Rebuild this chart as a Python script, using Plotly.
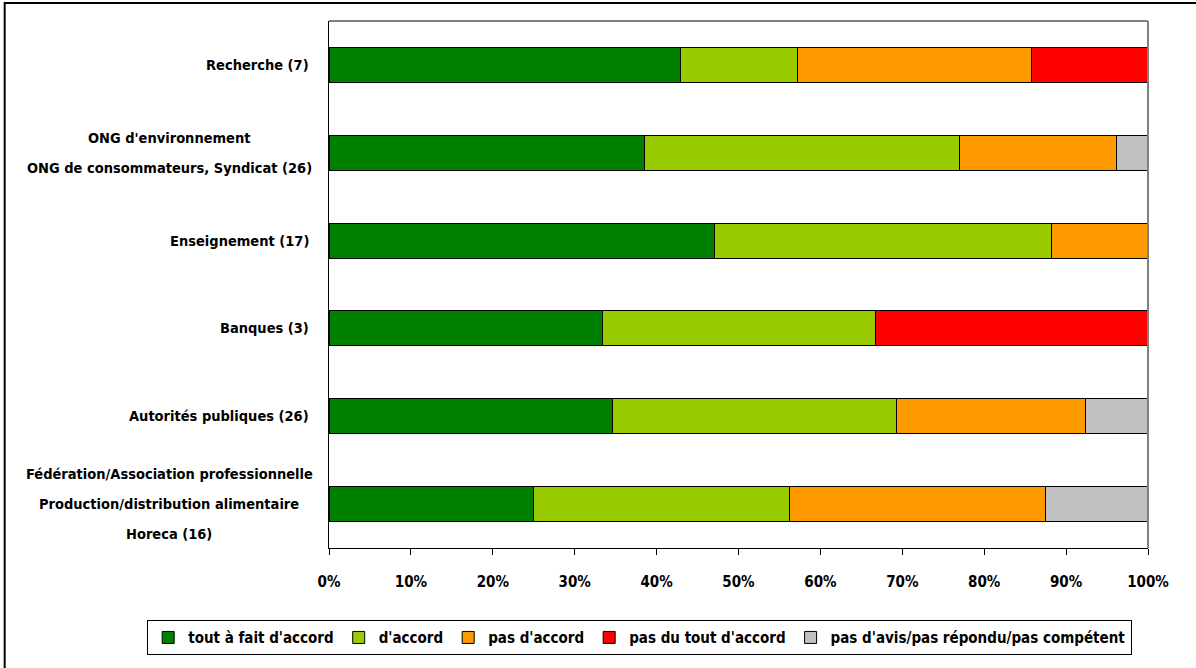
import plotly.graph_objects as go

# Respondent groups (top to bottom) and the number of answers per response
groups = [
    "Recherche (7)",
    "ONG d'environnement<br>ONG de consommateurs, Syndicat (26)",
    "Enseignement (17)",
    "Banques (3)",
    "Autorités publiques (26)",
    "Fédération/Association professionnelle<br>Production/distribution alimentaire<br>Horeca (16)",
]
responses = [
    "tout à fait d'accord",
    "d'accord",
    "pas d'accord",
    "pas du tout d'accord",
    "pas d'avis/pas répondu/pas compétent",
]
tout_a_fait = [3, 10, 8, 1, 9, 4]
accord = [1, 10, 7, 1, 9, 5]
pas_accord = [2, 5, 2, 0, 6, 5]
pas_du_tout = [1, 0, 0, 1, 0, 0]
sans_avis = [0, 1, 0, 0, 2, 2]
counts = [tout_a_fait, accord, pas_accord, pas_du_tout, sans_avis]
colors = ["#008000", "#99CC00", "#FF9900", "#FF0000", "#C0C0C0"]
tick_vals = [0, 10, 20, 30, 40, 50, 60, 70, 80, 90, 100]
tick_text = [f"{v}%" for v in tick_vals]

FONT = "DejaVu Sans Condensed, Liberation Sans Narrow, Arial Narrow, sans-serif"
LABEL_FONT = dict(family=FONT, size=14.5, color="black", weight="bold")
TICK_FONT = dict(family=FONT, size=15, color="black", weight="bold")
LINE_GAP = 30          # vertical spacing of multi-line category labels, px
LABEL_RIGHT = -0.022   # right edge of single-line labels (paper x)
LABEL_CENTER = -0.195  # centre of multi-line label blocks (paper x)

fig = go.Figure()
for name, vals, col in zip(responses, counts, colors):
    fig.add_trace(go.Bar(
        y=groups, x=vals, name=name, orientation="h",
        marker=dict(color=col, line=dict(color="black", width=1)),
        width=0.4,
    ))

# Category labels, one annotation per line so the line spacing can be widened
for g in groups:
    lines = g.split("<br>")
    n = len(lines)
    for i, line in enumerate(lines):
        fig.add_annotation(
            xref="paper", yref="y", y=g, text=line, showarrow=False,
            x=LABEL_RIGHT if n == 1 else LABEL_CENTER,
            xanchor="right" if n == 1 else "center",
            yanchor="middle", font=LABEL_FONT,
            yshift=((n - 1) / 2 - i) * LINE_GAP,
        )

fig.update_layout(
    barmode="stack",
    barnorm="percent",
    width=1196, height=668,
    margin=dict(l=329, r=48, t=21, b=120, autoexpand=False),
    paper_bgcolor="white", plot_bgcolor="white",
    font=TICK_FONT,
    showlegend=True,
    legend=dict(
        orientation="h", x=-0.222, xanchor="left", y=-0.137, yanchor="top",
        bordercolor="black", borderwidth=1, bgcolor="white",
        font=TICK_FONT, traceorder="normal", itemwidth=30,
    ),
    xaxis=dict(
        range=[0, 100], tickvals=tick_vals, ticktext=tick_text,
        showgrid=False, zeroline=False,
        showline=True, linecolor="black", linewidth=1,
        ticks="outside", ticklen=6, tickcolor="black",
        tickfont=TICK_FONT, ticklabelstandoff=14,
    ),
    yaxis=dict(
        autorange="reversed", showgrid=False, zeroline=False,
        showline=True, linecolor="black", linewidth=1,
        ticks="", showticklabels=False,
    ),
)

# Grey frame on the top and right of the plot area
fig.add_shape(type="line", xref="paper", yref="paper", x0=0, x1=1, y0=1, y1=1,
              line=dict(color="#808080", width=2))
fig.add_shape(type="line", xref="paper", yref="paper", x0=1, x1=1, y0=0, y1=1,
              line=dict(color="#808080", width=2))
# Outer chart border
fig.add_shape(type="rect", xref="paper", yref="paper",
              x0=-0.396, x1=1.07, y0=-0.25, y1=1.034,
              line=dict(color="black", width=2), fillcolor="rgba(0,0,0,0)")

fig.write_html("out.html")
